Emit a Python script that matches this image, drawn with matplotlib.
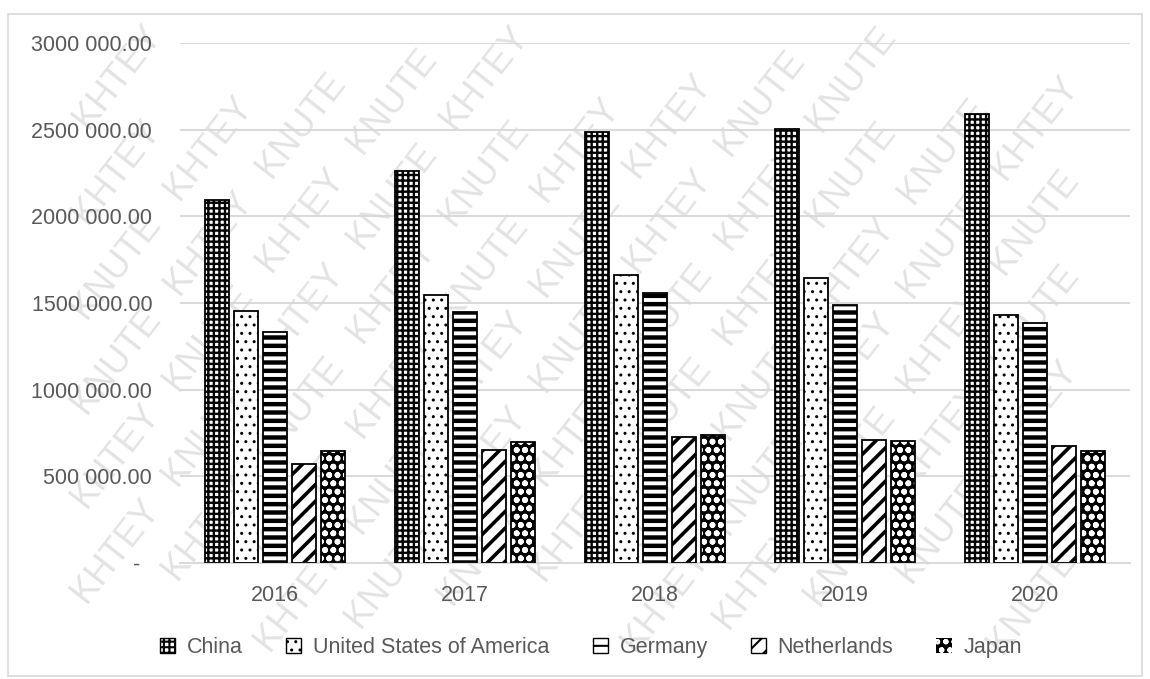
import numpy as np
import matplotlib
matplotlib.use("Agg")
import matplotlib.pyplot as plt
from matplotlib.patches import Rectangle
from matplotlib.ticker import FuncFormatter

# --- Datos ---
years = ["2016", "2017", "2018", "2019", "2020"]
countries = ["China", "United States of America", "Germany", "Netherlands", "Japan"]
china = [2097500, 2265000, 2487500, 2502500, 2590000]
usa = [1452500, 1545000, 1662500, 1642500, 1430000]
germany = [1335000, 1450000, 1560000, 1490000, 1382500]
netherlands = [570000, 650000, 727500, 707500, 675000]
japan = [645000, 697500, 740000, 705000, 642500]

series = [china, usa, germany, netherlands, japan]
# (hatch, facecolor, hatchcolor, hatch linewidth)
estilos = [
    ("+++", "white", "black", 1.7),
    ("..", "white", "black", 1.0),
    ("--", "white", "black", 3.2),
    ("//", "white", "black", 2.6),
    ("oo", "black", "white", 1.8),
]

plt.rcParams["font.family"] = ["Liberation Sans", "DejaVu Sans"]
gris = "#595959"
W, H = 1150, 679

fig = plt.figure(figsize=(11.5, 6.79), dpi=100)
ax = fig.add_axes([0.1565, 0.1714, 0.826, 0.7648])
ax.set_facecolor("none")
ax.set_zorder(2)

# --- marca de agua (palabras sueltas, todas dentro de la figura) ---
ang = np.deg2rad(52)
u = np.array([np.cos(ang), np.sin(ang)])
nrm = np.array([np.sin(ang), -np.cos(ang)])
centro = np.array([575.0, 340.0])
palabras = ["KNUTE", "KHTEY"]
for i in range(-25, 26):
    for j in range(-12, 13):
        c = centro + i * 58 * nrm + (j + 0.5 * (i % 2)) * 150 * u
        if 60 < c[0] < W - 60 and 66 < c[1] < H - 66:
            fig.text(c[0] / W, c[1] / H, palabras[j % 2], rotation=52,
                     fontsize=26, color="#e3e3e3",
                     family=["Liberation Sans Narrow", "Liberation Sans", "DejaVu Sans"],
                     ha="center", va="center", rotation_mode="anchor", zorder=1)

x = np.arange(len(years))
ancho = 0.126
paso = 0.1526
for k, (vals, (h, fc, hc, hlw)) in enumerate(zip(series, estilos)):
    pos = x + (k - 2) * paso
    bars = ax.bar(pos, vals, width=ancho, facecolor=fc, edgecolor=hc, hatch=h,
                  linewidth=0, zorder=2)
    for b in bars:
        if hasattr(b, "set_hatch_linewidth"):
            b.set_hatch_linewidth(hlw)
    ax.bar(pos, vals, width=ancho, facecolor="none", edgecolor="black",
           linewidth=1.3, zorder=3)

ax.set_xlim(-0.5, 4.5)
ax.set_ylim(0, 3000000)
ax.set_yticks(np.arange(0, 3000001, 500000))


def fmt(v, p):
    v = int(round(v))
    if v == 0:
        return "-  "
    return f"{v // 1000} {v % 1000:03d}.00"


ax.yaxis.set_major_formatter(FuncFormatter(fmt))
ax.set_xticks(x)
ax.set_xticklabels(years)
ax.tick_params(axis="both", length=0, labelsize=15.5, labelcolor=gris)
ax.tick_params(axis="x", pad=16)
ax.tick_params(axis="y", pad=20)
ax.grid(axis="y", color="#d9d9d9", linewidth=1.4, zorder=0)
ax.set_axisbelow(True)
for s in ["top", "right", "left"]:
    ax.spines[s].set_visible(False)
ax.spines["bottom"].set_color("#d9d9d9")
ax.spines["bottom"].set_linewidth(1.4)

# --- leyenda ---
handles = []
for (h, fc, hc, hlw) in estilos:
    r = Rectangle((0, 0), 1, 1, facecolor=fc, edgecolor=hc, hatch=h, linewidth=0)
    handles.append(r)
leg = fig.legend(handles, countries, loc="center", bbox_to_anchor=(0.514, 0.046),
                 ncol=5, frameon=False, fontsize=15.5, handlelength=0.7,
                 handleheight=0.7, handletextpad=0.55, columnspacing=2.0)
leg.set_zorder(3)
for t in leg.get_texts():
    t.set_color(gris)
for p, (h, fc, hc, hlw) in zip(leg.get_patches(), estilos):
    if fc == "white":
        p.set_edgecolor("black")
        p.set_linewidth(1.0)
    if hasattr(p, "set_hatch_linewidth"):
        p.set_hatch_linewidth(min(hlw, 1.5))

# marco del grafico
fig.patches.append(Rectangle((0.007, 0.004), 0.986, 0.976, transform=fig.transFigure,
                             fill=False, edgecolor="#d9d9d9", linewidth=1.2, zorder=1))

fig.savefig("out.png", dpi=100)
